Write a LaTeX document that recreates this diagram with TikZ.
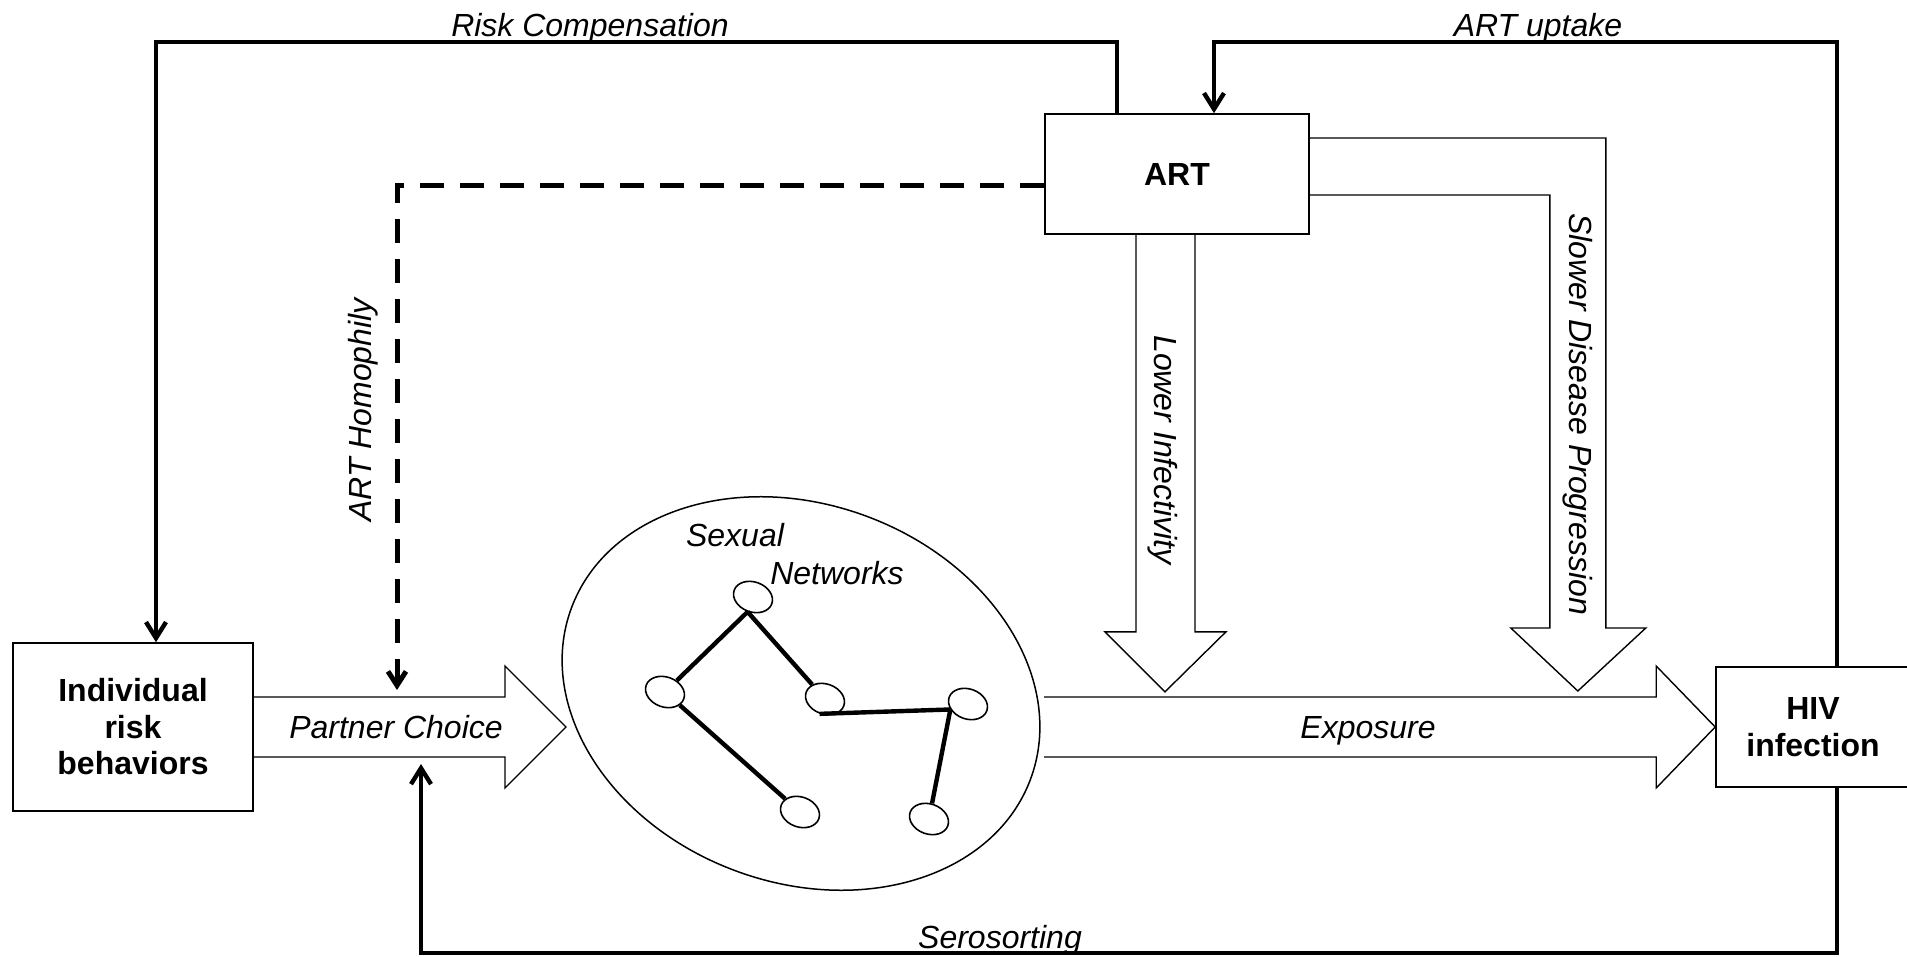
\documentclass[tikz,border=0pt]{standalone}
\usepackage{fontspec}
\setmainfont{Liberation Sans}
\usetikzlibrary{arrows.meta,calc,shapes.geometric}
\pgfdeclarelayer{bg}
\pgfsetlayers{bg,main}
\begin{document}
\begin{tikzpicture}[x=0.5pt,y=-0.5pt,
  box/.style={draw, line width=0.8pt, fill=white, align=center,
    font=\fontsize{16}{18.25}\selectfont\bfseries, inner sep=0pt},
  lbl/.style={font=\fontsize{16}{18.25}\selectfont\itshape, inner sep=0pt},
  hollow/.style={draw, line width=0.7pt, fill=white, line join=miter},
  conn/.style={line width=2.2pt, line join=miter, -{Straight Barb[length=8pt,width=10pt]}},
  dashconn/.style={line width=2.5pt, dash pattern=on 12pt off 8pt, line join=miter,
    -{Straight Barb[length=7pt,width=9pt]}},
  netnode/.style={draw, ellipse, line width=0.8pt, minimum width=20pt,
    minimum height=15pt, inner sep=0pt, rotate=-20},
  netedge/.style={line width=2.2pt},
]
\useasboundingbox (0,0) rectangle (1907,957);

% main boxes
\node[box, minimum width=120pt, minimum height=84pt] (irb) at (133,727) {Individual\\risk\\behaviors};
\node[box, minimum width=132pt, minimum height=60pt] (art) at (1177,174) {ART};
\node[box, minimum width=97pt, minimum height=60pt] (hiv) at (1813,727) {HIV\\infection};

% sexual network ellipse
\node[draw, ellipse, line width=0.75pt, minimum width=245pt, minimum height=189pt,
  inner sep=0pt, rotate=-20.5] (net) at (801,693.5) {};
\node[lbl] (sx) at (735,535) {Sexual};
\node[lbl] (nw) at (837,573) {Networks};

\node[netnode] (n1) at (753,597) {};
\node[netnode] (n2) at (665,692) {};
\node[netnode] (n3) at (825,699) {};
\node[netnode] (n4) at (968,704) {};
\node[netnode] (n5) at (800,812) {};
\node[netnode] (n6) at (929,819) {};
\draw[netedge] (n1.south) -- (n2);
\draw[netedge] (n1.south) -- (n3);
\draw[netedge] (n2) -- (n5);
\draw[netedge] (n3.south) -- (n4.south west);
\draw[netedge] (n4.south west) -- (n6);

% named points for block arrows
\coordinate (pcTip) at (566,727);
\coordinate (exStart) at (1044,727);

\begin{pgfonlayer}{bg}
% Partner Choice
\draw[hollow] ($(irb.east)+(0,-30)$) -- ($(pcTip)+(-61,-30)$) -- ($(pcTip)+(-61,-61)$)
  -- (pcTip) -- ($(pcTip)+(-61,61)$) -- ($(pcTip)+(-61,30)$) -- ($(irb.east)+(0,30)$);
% Exposure
\draw[hollow] ($(exStart)+(0,-30)$) -- ($(hiv.west)+(-59,-30)$) -- ($(hiv.west)+(-59,-61)$)
  -- (hiv.west) -- ($(hiv.west)+(-59,61)$) -- ($(hiv.west)+(-59,30)$) -- ($(exStart)+(0,30)$);
% Lower Infectivity
\draw[hollow] ($(art.south)+(-41,0)$) -- ($(art.south)+(-41,397)$) -- ($(art.south)+(-72,397)$)
  -- ($(art.south)+(-12,457)$) -- ($(art.south)+(49,397)$) -- ($(art.south)+(18,397)$)
  -- ($(art.south)+(18,0)$);
% Slower Disease Progression
\draw[hollow] ($(art.east)+(0,-36)$) -- ($(art.east)+(296,-36)$) -- ($(art.east)+(296,454)$)
  -- ($(art.east)+(336,454)$) -- ($(art.east)+(268,517)$) -- ($(art.east)+(201,454)$)
  -- ($(art.east)+(240,454)$) -- ($(art.east)+(240,21)$) -- ($(art.east)+(0,21)$);
\end{pgfonlayer}

% labels in block arrows
\node[lbl] (tpc) at (396,727) {Partner Choice};
\node[lbl] (tex) at (1368,731) {Exposure};
\node[lbl, rotate=-90] (tli) at (1163,450) {Lower Infectivity};
\node[lbl, rotate=-90] (tsd) at (1578,414) {Slower Disease Progression};

% feedback connectors
\coordinate (topL) at (156,42);
\coordinate (topR) at (1837,42);
\coordinate (botR) at (1837,953);
\coordinate (seroEnd) at (421,764);
\coordinate (homEnd) at (397,690);

\draw[conn] ($(art.north)+(-60,0)$) |- (topL) -- (topL |- irb.north);
\draw[conn] (topR |- hiv.north) -- (topR) -| ($(art.north)+(37,0)$);
\draw[conn] (botR |- hiv.south) -- (botR) -| (seroEnd);
\draw[dashconn] ($(art.west)+(0,12)$) -| (homEnd);

\node[lbl] (trc) at (590,28) {Risk Compensation};
\node[lbl] (tau) at (1538,28) {ART uptake};
\node[lbl] (tss) at (1000,940) {Serosorting};
\node[lbl, rotate=90] (tah) at (363,410) {ART Homophily};
\end{tikzpicture}
\end{document}
